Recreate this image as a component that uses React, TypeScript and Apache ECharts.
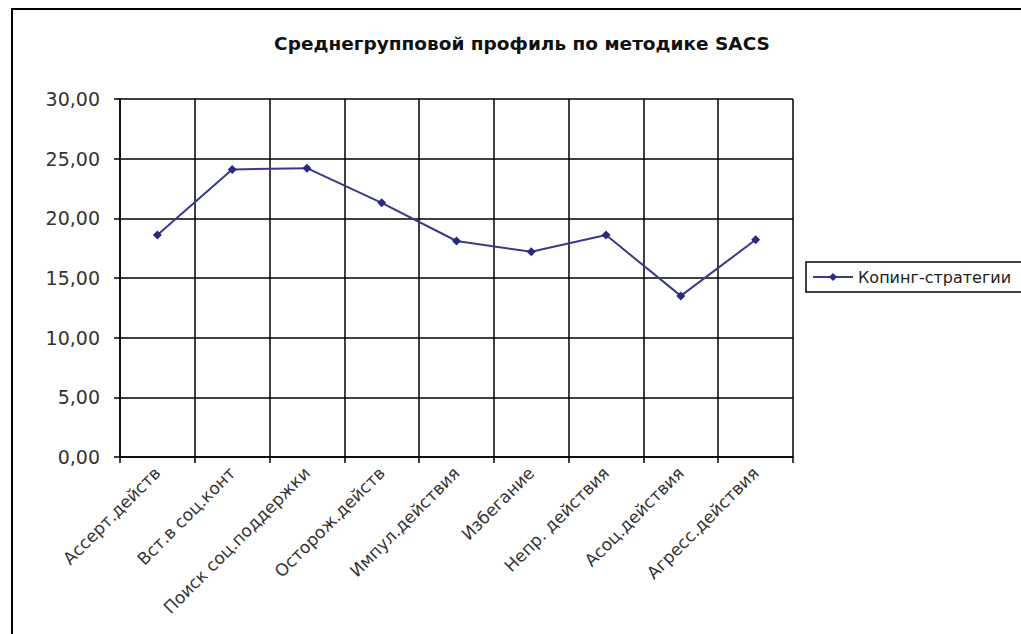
import React, { useEffect, useRef } from "react";
import * as echarts from "echarts";

const categories = [
  "Ассерт.действ",
  "Вст.в соц.конт",
  "Поиск соц.поддержки",
  "Осторож.действ",
  "Импул.действия",
  "Избегание",
  "Непр. действия",
  "Асоц.действия",
  "Агресс.действия",
];
const copingValues = [18.6, 24.1, 24.2, 21.3, 18.1, 17.2, 18.6, 13.5, 18.2];
const seriesName = "Копинг-стратегии";
const titleText = "Среднегрупповой профиль по методике SACS";

export default function App() {
  const ref = useRef<HTMLDivElement>(null);
  useEffect(() => {
    if (!ref.current) return;
    const chart = echarts.init(ref.current, null, { renderer: "svg" });
    const font = "'DejaVu Sans', 'Liberation Sans', Arial, sans-serif";
    chart.setOption({
      animation: false,
      backgroundColor: "#ffffff",
      textStyle: { fontFamily: font },
      title: {
        text: titleText,
        left: 517,
        top: 29,
        textAlign: "center",
        textStyle: { fontFamily: font, fontSize: 18.5, fontWeight: "bold", color: "#111" },
      },
      graphic: [
        {
          type: "rect",
          shape: { x: 12, y: 9, width: 1300, height: 900 },
          style: { fill: "none", stroke: "#000", lineWidth: 2 },
          silent: true,
        },
      ],
      legend: {
        left: 806,
        top: 262,
        orient: "horizontal",
        borderColor: "#000",
        borderWidth: 1.5,
        padding: [7, 40, 7, 6],
        itemWidth: 40,
        itemHeight: 10,
        itemGap: 6,
        textStyle: { fontFamily: font, fontSize: 16, color: "#222" },
        data: [seriesName],
      },
      grid: { left: 120, top: 99, right: 228, bottom: 177, containLabel: false },
      xAxis: {
        type: "category",
        data: categories,
        boundaryGap: true,
        axisLine: { show: true, lineStyle: { color: "#000", width: 1.5 } },
        axisTick: { show: true, length: 6, lineStyle: { color: "#000", width: 1.5 } },
        splitLine: { show: true, lineStyle: { color: "#000", width: 1.5 } },
        axisLabel: {
          interval: 0,
          rotate: 45,
          margin: 13,
          fontFamily: font,
          fontSize: 17,
          color: "#333",
        },
      },
      yAxis: {
        type: "value",
        min: 0,
        max: 30,
        interval: 5,
        axisLine: { show: true, lineStyle: { color: "#000", width: 1.5 } },
        axisTick: { show: true, length: 6, lineStyle: { color: "#000", width: 1.5 } },
        splitLine: { show: true, lineStyle: { color: "#000", width: 1.5 } },
        axisLabel: {
          margin: 20,
          fontFamily: font,
          fontSize: 19,
          color: "#333",
          formatter: (v: number) => v.toFixed(2).replace(".", ","),
        },
      },
      series: [
        {
          name: seriesName,
          type: "line",
          data: copingValues,
          symbol: "diamond",
          symbolSize: 9,
          itemStyle: { color: "#2a2a82" },
          lineStyle: { color: "#3a3a8a", width: 2 },
        },
      ],
    });
    return () => chart.dispose();
  }, []);
  return (
    <div
      ref={ref}
      style={{ position: "fixed", left: 0, top: 0, width: 1021, height: 634 }}
    />
  );
}
